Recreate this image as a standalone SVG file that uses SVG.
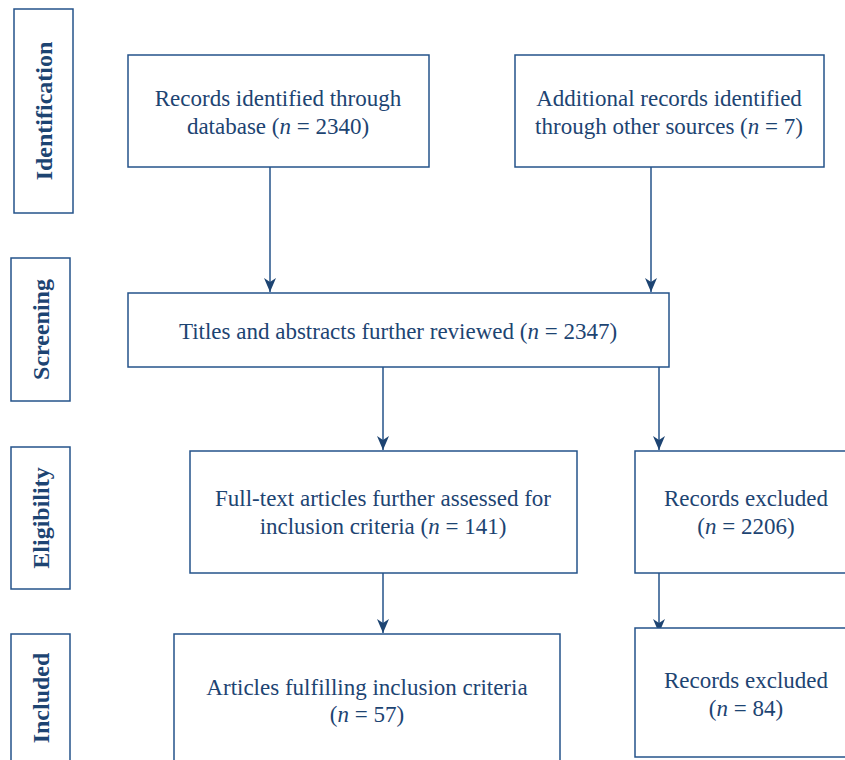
<svg xmlns="http://www.w3.org/2000/svg" width="845" height="760" viewBox="0 0 845 760">
<defs>
<style>
.box{fill:#fff;stroke:#24538a;stroke-width:1.5}
.t{font-family:"Liberation Serif","DejaVu Serif",serif;font-size:23px;fill:#1d4472;text-anchor:middle}
.s{font-family:"Liberation Serif","DejaVu Serif",serif;font-size:24px;font-weight:bold;fill:#1d4472;text-anchor:middle}
.c{stroke:#24538a;stroke-width:1.5;fill:none;marker-end:url(#ah)}
</style>
<marker id="ah" viewBox="0 0 14 12" refX="14" refY="6" markerWidth="14" markerHeight="12" markerUnits="userSpaceOnUse" orient="auto">
<path d="M0,0 L14,6 L0,12 L4,6 Z" fill="#1d4472"/>
</marker>
</defs>
<rect width="845" height="760" fill="#fff"/>
<g id="stage-identification"><rect class="box" x="14" y="9" width="59" height="204"/><text class="s" transform="translate(52,111) rotate(-90)">Identification</text></g>
<g id="stage-screening"><rect class="box" x="11" y="258" width="59" height="143"/><text class="s" transform="translate(49,329.5) rotate(-90)">Screening</text></g>
<g id="stage-eligibility"><rect class="box" x="11" y="447" width="59" height="142"/><text class="s" transform="translate(49,518) rotate(-90)">Eligibility</text></g>
<g id="stage-included"><rect class="box" x="11" y="634" width="59" height="140"/><text class="s" transform="translate(49,698) rotate(-90)">Included</text></g>
<g id="connectors">
<line class="c" x1="270" y1="167" x2="270" y2="292"/>
<line class="c" x1="651" y1="167" x2="651" y2="292"/>
<line class="c" x1="383" y1="367" x2="383" y2="450"/>
<line class="c" x1="659" y1="367" x2="659" y2="450"/>
<line class="c" x1="383" y1="573" x2="383" y2="633"/>
<line class="c" x1="659" y1="573" x2="659" y2="633"/>
</g>
<g id="n1"><rect class="box" x="128" y="55" width="301" height="112"/><text class="t" x="278" y="106">Records identified through</text><text class="t" x="278" y="134">database (<tspan font-style="italic">n</tspan> = 2340)</text></g>
<g id="n2"><rect class="box" x="515" y="55" width="309" height="112"/><text class="t" x="669" y="106">Additional records identified</text><text class="t" x="669" y="134">through other sources (<tspan font-style="italic">n</tspan>  = 7)</text></g>
<g id="n3"><rect class="box" x="128" y="293" width="541" height="74"/><text class="t" x="398" y="339">Titles and abstracts further reviewed (<tspan font-style="italic">n</tspan> = 2347)</text></g>
<g id="n4"><rect class="box" x="190" y="451" width="387" height="122"/><text class="t" x="383" y="506">Full-text articles further assessed for</text><text class="t" x="383" y="534">inclusion criteria (<tspan font-style="italic">n</tspan> = 141)</text></g>
<g id="n5"><rect class="box" x="635" y="451" width="230" height="122"/><text class="t" x="746" y="506">Records excluded</text><text class="t" x="746" y="534">(<tspan font-style="italic">n</tspan> = 2206)</text></g>
<g id="n6"><rect class="box" x="174" y="634" width="386" height="140"/><text class="t" x="367" y="695">Articles fulfilling inclusion criteria</text><text class="t" x="367" y="722">(<tspan font-style="italic">n</tspan> = 57)</text></g>
<g id="n7"><rect class="box" x="635" y="628" width="230" height="129"/><text class="t" x="746" y="688">Records excluded</text><text class="t" x="746" y="716">(<tspan font-style="italic">n</tspan> = 84)</text></g>
</svg>
